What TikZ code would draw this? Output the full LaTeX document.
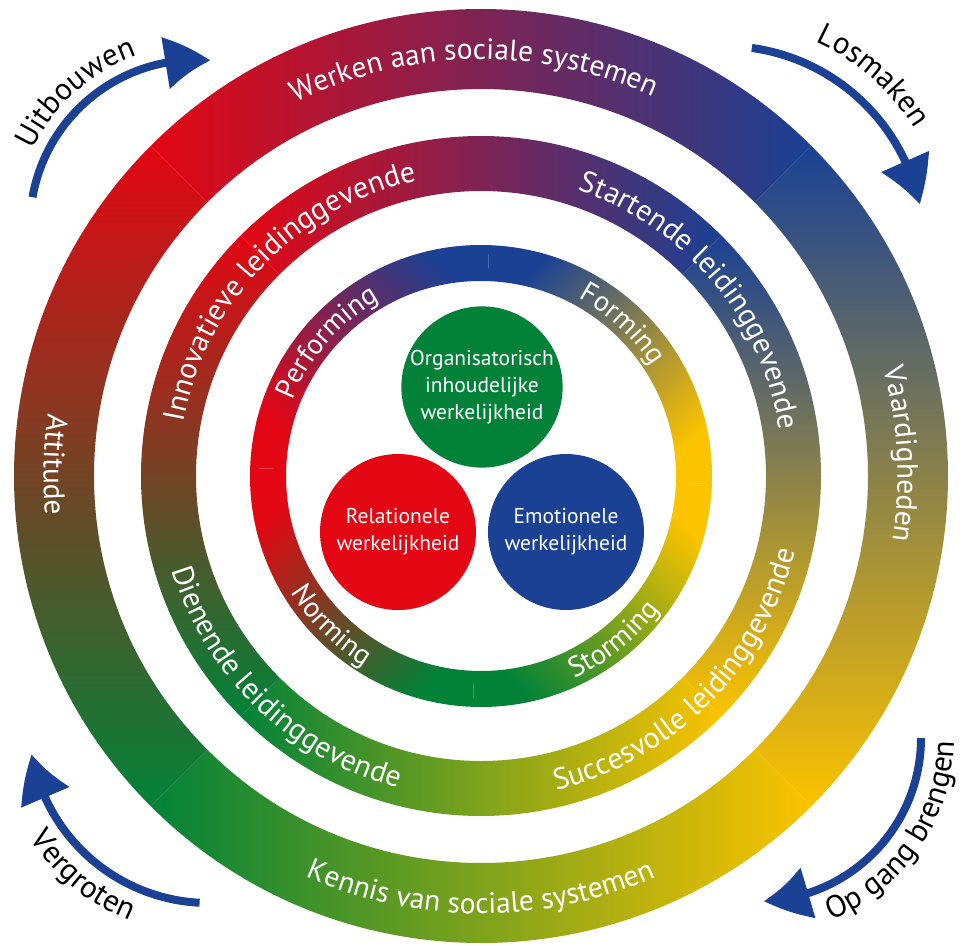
\documentclass[tikz,border=0pt]{standalone}
\usepackage{fontspec}
\setmainfont{PT Sans}
\usetikzlibrary{decorations.text,arrows.meta,bending}
\definecolor{cRed}{RGB}{227,6,19}
\definecolor{cBlue}{RGB}{26,65,148}
\definecolor{cGreen}{RGB}{2,130,56}
\definecolor{cYellow}{RGB}{251,195,0}
\newcommand{\outerfont}{\fontsize{29.5}{34}\selectfont}
\newcommand{\midfont}{\fontsize{30}{35}\selectfont}
\newcommand{\innerfont}{\fontsize{28.5}{33}\selectfont}
\newcommand{\arrowfont}{\fontsize{31}{36}\selectfont}
\newcommand{\circfont}{\fontsize{21.5}{27}\selectfont}
\newcommand{\annsec}[5]{%
  \shade[#1] ({#4}:#3) arc[start angle={#4}, end angle={#5}, radius=#3]
    -- ({#5}:#2) arc[start angle={#5}, end angle={#4}, radius=#2] -- cycle;}
\newcommand{\cwtext}[6]{%
  \path[decorate, decoration={text along path, text align=center, text color=#6,
    text={|#4|#5}}] ({#2+#3}:#1) arc[start angle={#2+#3}, end angle={#2-#3}, radius=#1];}
\newcommand{\ccwtext}[6]{%
  \path[decorate, decoration={text along path, text align=center, text color=#6,
    text={|#4|#5}}] ({#2-#3}:#1) arc[start angle={#2-#3}, end angle={#2+#3}, radius=#1];}
\tikzset{
  bluearrow/.style={draw=cBlue, line width=8pt, -{Triangle[length=46pt,width=50pt,bend]}},
  realm/.style={circle, minimum size=156pt, inner sep=0pt, text=white, align=center, font=\circfont},
}
\begin{document}
\begin{tikzpicture}[x=1pt,y=1pt]
\useasboundingbox (-481,-469) rectangle (482,476);
\fill[white] (-481,-469) rectangle (482,476);
% outer ring
\annsec{left color=cRed, right color=cBlue}{387}{467}{45}{135}
\annsec{top color=cBlue, bottom color=cYellow}{387}{467}{-45}{45}
\annsec{left color=cGreen, right color=cYellow}{387}{467}{-135}{-45}
\annsec{top color=cRed, bottom color=cGreen}{387}{467}{135}{225}
% middle ring
\annsec{left color=cRed, right color=cBlue}{285}{340}{45}{135}
\annsec{top color=cBlue, bottom color=cYellow}{285}{340}{-45}{45}
\annsec{left color=cGreen, right color=cYellow}{285}{340}{-135}{-45}
\annsec{top color=cRed, bottom color=cGreen}{285}{340}{135}{225}
% inner ring
\annsec{top color=cBlue, bottom color=cYellow, shading angle=45}{195}{231}{-2}{88}
\annsec{top color=cYellow, bottom color=cGreen, shading angle=-45}{195}{231}{-92}{-2}
\annsec{top color=cRed, bottom color=cGreen, shading angle=45}{195}{231}{178}{268}
\annsec{top color=cBlue, bottom color=cRed, shading angle=-45}{195}{231}{88}{178}
% ring texts
\cwtext{416.5}{91}{70}{\outerfont}{Werken aan sociale systemen}{white}
\cwtext{416.5}{3}{40}{\outerfont}{Vaardigheden}{white}
\ccwtext{437.5}{-90}{70}{\outerfont}{Kennis van sociale systemen}{white}
\ccwtext{437.5}{178.5}{40}{\outerfont}{Attitude}{white}
\cwtext{302}{136}{60}{\midfont}{Innovatieve leidinggevende}{white}
\cwtext{302}{40}{60}{\midfont}{Startende leidinggevende}{white}
\ccwtext{323}{-45}{60}{\midfont}{Succesvolle leidinggevende}{white}
\ccwtext{323}{226}{60}{\midfont}{Dienende leidinggevende}{white}
\cwtext{203}{47}{40}{\innerfont}{Forming}{white}
\cwtext{203}{139}{40}{\innerfont}{Performing}{white}
\ccwtext{223}{-51}{40}{\innerfont}{Storming}{white}
\ccwtext{223}{225}{40}{\innerfont}{Norming}{white}
% centre circles
\node[realm, fill=cGreen] (org) at (1,89) {Organisatorisch\\inhoudelijke\\werkelijkheid};
\node[realm, fill=cRed] (rel) at (-83,-56) {Relationele\\werkelijkheid};
\node[realm, fill=cBlue] (emo) at (85,-56) {Emotionele\\werkelijkheid};
% arrows
\coordinate (uS) at ([shift={(-285,250)}]170:166);
\draw[bluearrow] (uS) arc[start angle=170, end angle=85, radius=166];
\begin{scope}[shift={(-285,250)}]\cwtext{180}{132}{45}{\arrowfont}{Uitbouwen}{black}\end{scope}
\coordinate (lS) at ([shift={(243,230)}]82:200);
\draw[bluearrow] (lS) arc[start angle=82, end angle=12, radius=200];
\begin{scope}[shift={(243,230)}]\cwtext{224}{48.7}{40}{\arrowfont}{Losmaken}{black}\end{scope}
\coordinate (vS) at ([shift={(-272,-247)}]267:180);
\draw[bluearrow] (vS) arc[start angle=267, end angle=190, radius=180];
\begin{scope}[shift={(-272,-247)}]\ccwtext{213}{230.5}{40}{\arrowfont}{Vergroten}{black}\end{scope}
\coordinate (oS) at ([shift={(277,-262)}]0:163);
\draw[bluearrow] (oS) arc[start angle=0, end angle=-88, radius=163];
\begin{scope}[shift={(277,-262)}]\ccwtext{196}{-34.5}{45}{\arrowfont}{Op gang brengen}{black}\end{scope}
\end{tikzpicture}
\end{document}
